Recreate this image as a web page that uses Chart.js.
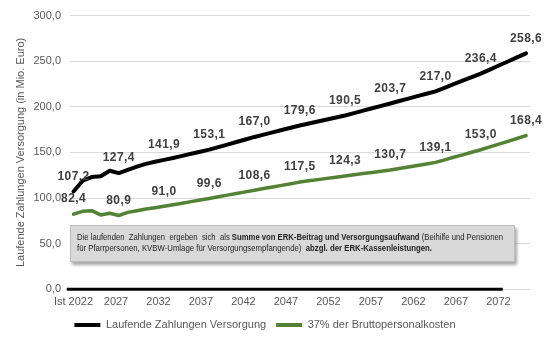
<!DOCTYPE html>
<html>
<head>
<meta charset="utf-8">
<script src="https://cdn.jsdelivr.net/npm/chart.js@4.4.1/dist/chart.umd.min.js"></script>
<style>
  html, body { margin: 0; padding: 0; background: #ffffff; }
  #wrap { position: relative; width: 550px; height: 343px; }
  #note {
    position: absolute; left: 70px; top: 225px; width: 443px; height: 35px;
    background: #d9d9d9; border: 1px solid #bdbdbd;
    box-shadow: 2px 3px 3px rgba(0,0,0,0.35);
    font-family: 'Liberation Sans', Arial, sans-serif; font-size: 9px; color: #1e1e1e;
    overflow: visible;
  }
  #note .ln { position: absolute; left: 6px; white-space: pre; transform-origin: 0 50%; line-height: 11px; }
  #note b { font-weight: bold; }
</style>
</head>
<body>
<div id="wrap">
  <canvas id="c" width="550" height="343"></canvas>
  <div id="note">
    <div class="ln" id="l1" style="top:6px">Die laufenden  Zahlungen  ergeben  sich  als <b>Summe von ERK-Beitrag und Versorgungsaufwand</b> (Beihilfe und Pensionen</div>
    <div class="ln" id="l2" style="top:17px">für Pfarrpersonen, KVBW-Umlage für Versorgungsempfangende)  <b>abzgl. der ERK-Kassenleistungen.</b></div>
  </div>
</div>
<script>
// ---- Data ----
const years = [2022,2023,2024,2025,2026,2027,2028,2029,2030,2031,2032,2033,2034,2035,2036,2037,2038,2039,2040,2041,2042,2043,2044,2045,2046,2047,2048,2049,2050,2051,2052,2053,2054,2055,2056,2057,2058,2059,2060,2061,2062,2063,2064,2065,2066,2067,2068,2069,2070,2071,2072];
const laufendeZahlungen = [107.2,119.0,123.0,124.0,130.0,127.4,131.0,134.5,137.5,139.8,141.9,144.0,146.3,148.6,150.8,153.1,155.9,158.6,161.4,164.2,167.0,169.5,172.0,174.6,177.1,179.6,181.8,184.0,186.1,188.3,190.5,193.1,195.8,198.4,201.1,203.7,206.4,209.0,211.7,214.3,217.0,220.9,224.8,228.6,232.5,236.4,240.8,245.3,249.7,254.2,258.6];
const bruttoPersonal37 = [82.4,85.5,86.2,81.5,83.3,80.9,84.3,86.2,88.0,89.5,91.0,92.7,94.4,96.1,97.9,99.6,101.4,103.2,105.0,106.8,108.6,110.4,112.2,113.9,115.7,117.5,118.9,120.2,121.6,122.9,124.3,125.6,126.9,128.1,129.4,130.7,132.4,134.1,135.7,137.4,139.1,141.9,144.7,147.4,150.2,153.0,156.1,159.2,162.2,165.3,168.4];
const tickYears = [2022,2027,2032,2037,2042,2047,2052,2057,2062,2067,2072];
const yTicks = [0,50,100,150,200,250,300];
const seriesNames = ['Laufende Zahlungen Versorgung','37% der Bruttopersonalkosten'];

const fmt = v => v.toFixed(1).replace('.', ',');
const FONT = "'Liberation Sans', Arial, sans-serif";
Chart.defaults.font.family = FONT;

const labelPlugin = {
  id: 'valueLabels',
  afterDatasetsDraw(chart) {
    const ctx = chart.ctx;
    ctx.save();
    ctx.font = 'bold 12px ' + FONT;
    if ('letterSpacing' in ctx) ctx.letterSpacing = '0.4px';
    ctx.fillStyle = '#404040';
    ctx.textAlign = 'center';
    ctx.textBaseline = 'middle';
    chart.data.datasets.forEach((ds, di) => {
      const meta = chart.getDatasetMeta(di);
      ds.data.forEach((p, i) => {
        if (tickYears.includes(p.x)) {
          const el = meta.data[i];
          ctx.fillText(fmt(p.y), el.x, el.y - 15);
        }
      });
    });
    ctx.restore();
  }
};

const baselinePlugin = {
  id: 'baseline',
  beforeDatasetsDraw(chart) {
    const {ctx, scales} = chart;
    const y0 = scales.y.getPixelForValue(0);
    const xs = scales.x2.getPixelForValue(2021.2);
    const xe = scales.x2.getPixelForValue(2072.5);
    ctx.save();
    ctx.strokeStyle = '#000000';
    ctx.lineWidth = 3;
    ctx.beginPath();
    ctx.moveTo(xs, y0);
    ctx.lineTo(xe, y0);
    ctx.stroke();
    ctx.restore();
  }
};

new Chart(document.getElementById('c'), {
  type: 'line',
  data: {
    datasets: [
      {
        label: seriesNames[0],
        data: years.map((y, i) => ({x: y, y: laufendeZahlungen[i]})),
        borderColor: '#000000', backgroundColor: '#000000',
        borderWidth: 4, pointRadius: 0, tension: 0,
        borderJoinStyle: 'round', borderCapStyle: 'round',
        xAxisID: 'x', yAxisID: 'y'
      },
      {
        label: seriesNames[1],
        data: years.map((y, i) => ({x: y, y: bruttoPersonal37[i]})),
        borderColor: '#548235', backgroundColor: '#548235',
        borderWidth: 3.5, pointRadius: 0, tension: 0,
        borderJoinStyle: 'round', borderCapStyle: 'round',
        xAxisID: 'x', yAxisID: 'y'
      }
    ]
  },
  options: {
    responsive: false,
    animation: false,
    devicePixelRatio: 1,
    layout: { padding: { top: 13, right: 20, left: 0, bottom: 2.5 } },
    plugins: {
      tooltip: { enabled: false },
      legend: {
        position: 'bottom',
        labels: {
          boxWidth: 26, boxHeight: 4, padding: 10,
          color: '#595959', font: { size: 11, family: FONT },
          generateLabels(chart) {
            const items = Chart.defaults.plugins.legend.labels.generateLabels(chart);
            items.forEach(it => { it.fillStyle = it.strokeStyle; it.lineWidth = 0; });
            return items;
          }
        }
      }
    },
    scales: {
      x: {
        type: 'linear', min: 2021.61, max: 2072.44, display: false
      },
      x2: {
        type: 'linear', position: 'bottom', min: 2021.588, max: 2075.71,
        grid: { display: false, drawTicks: false }, border: { display: false },
        afterBuildTicks(axis) { axis.ticks = tickYears.map(v => ({value: v})); },
        afterFit(axis) { axis.height = 20.2; },
        ticks: {
          autoSkip: false, maxRotation: 0, padding: 6,
          color: '#595959', font: { size: 11, family: FONT },
          callback: v => (v === 2022 ? 'Ist 2022' : String(v))
        }
      },
      y: {
        type: 'linear', min: 0, max: 300,
        afterBuildTicks(axis) { axis.ticks = yTicks.map(v => ({value: v})); },
        afterFit(axis) { axis.width = 70; },
        grid: { color: '#d9d9d9', lineWidth: 1, drawTicks: false },
        border: { display: false },
        ticks: {
          padding: 9, color: '#595959', font: { size: 11, family: FONT },
          callback: v => fmt(v)
        },
        title: {
          display: true, text: 'Laufende Zahlungen Versorgung (in Mio. Euro)',
          color: '#595959', font: { size: 11, family: FONT },
          padding: { top: 14, bottom: 0 }
        }
      }
    }
  },
  plugins: [labelPlugin, baselinePlugin]
});

// condense the note text lines to the widths seen in the reference
function fitLine(id, target) {
  const el = document.getElementById(id);
  const w = el.getBoundingClientRect().width;
  if (w > 0) el.style.transform = 'scaleX(' + (target / w) + ')';
}
fitLine('l1', 426);
fitLine('l2', 355);
</script>
</body>
</html>
